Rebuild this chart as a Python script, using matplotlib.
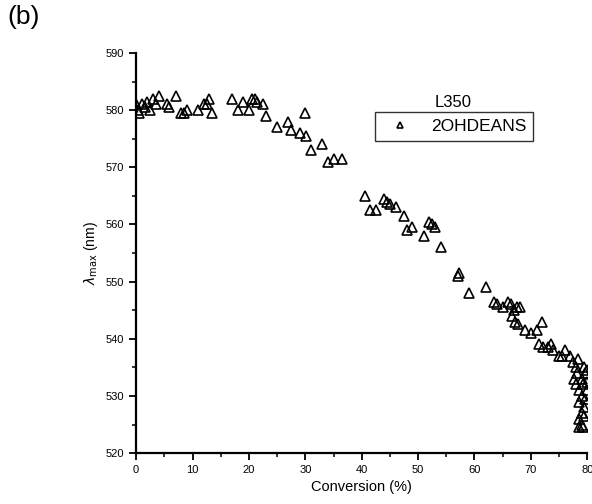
import matplotlib
matplotlib.use("Agg")
import matplotlib.pyplot as plt
from matplotlib.ticker import MultipleLocator

# data
conversion = [0, 0.3, 0.5, 1, 1.5, 2, 2.5, 3, 3.5, 4, 5.5, 5.8, 7, 8, 8.5, 9,
              11, 12, 12.5, 13, 13.5, 17, 18, 19, 20, 20.5, 21, 21.5, 22.5, 23,
              25, 27, 27.5, 29, 30, 30.2, 31, 33, 34, 35, 36.5,
              40.5, 41.5, 42.5, 44, 44.5, 45, 46, 47.5, 48, 49, 51, 52, 52.5, 53, 54,
              57, 57.3, 59, 62, 63.5, 64, 65, 66, 66.5, 67, 67.5, 66.7, 67.2, 68, 67.8,
              69, 70, 71, 72, 71.5, 72.2, 73, 73.5, 74, 75, 75.5, 76, 77, 77.5,
              78, 78.2, 77.6, 78, 78.5, 79, 79.5, 79.6, 80, 79, 78.5, 79, 79.5,
              78.5, 79, 79.2, 78.6, 79.5, 80, 79.6, 78.4, 80, 79.2]
lambda_max = [581, 580, 579.5, 581, 580.5, 581.5, 580, 582, 581, 582.5, 581, 580.5,
              582.5, 579.5, 579.5, 580, 580, 581, 581, 582, 579.5, 582, 580, 581.5,
              580, 582, 582, 581.5, 581, 579, 577, 578, 576.5, 576, 579.5, 575.5,
              573, 574, 571, 571.5, 571.5,
              565, 562.5, 562.5, 564.5, 564, 563.5, 563, 561.5, 559, 559.5, 558,
              560.5, 560, 559.5, 556,
              551, 551.5, 548, 549, 546.5, 546, 545.5, 546.5, 546, 545, 545.5, 544,
              543, 545.5, 542.5,
              541.5, 541, 541.5, 543, 539, 538.5, 538.5, 539, 538, 537, 537, 538,
              537, 536,
              535, 534, 533, 532, 531, 533, 535, 534, 532.5, 530, 529, 527, 528,
              526, 525, 524.5, 524.5, 526.5, 531, 529.5, 536.5, 534.5, 532]

plt.rcParams["font.family"] = ["Liberation Sans", "DejaVu Sans"]

fig = plt.figure(figsize=(5.92, 5.04), dpi=100)
ax = fig.add_axes([0.23, 0.101, 0.762, 0.794])

ax.plot(conversion, lambda_max, linestyle="none", marker="^", markersize=6.5,
        markerfacecolor="none", markeredgecolor="black", markeredgewidth=1.2,
        label="2OHDEANS")

ax.set_xlim(0, 80)
ax.set_ylim(520, 590)
ax.xaxis.set_major_locator(MultipleLocator(10))
ax.xaxis.set_minor_locator(MultipleLocator(5))
ax.yaxis.set_major_locator(MultipleLocator(10))
ax.yaxis.set_minor_locator(MultipleLocator(5))

for side in ["top", "right"]:
    ax.spines[side].set_visible(False)
ax.spines["left"].set_linewidth(1.6)
ax.spines["bottom"].set_linewidth(1.6)
ax.tick_params(which="major", direction="out", length=5, width=1.3, labelsize=8)
ax.tick_params(which="minor", direction="out", length=3, width=1.1)

ax.set_xlabel("Conversion (%)", fontsize=10.5)
ax.set_ylabel(r"$\lambda_{\rm max}$ (nm)", fontsize=10)

leg = ax.legend(loc="upper left", bbox_to_anchor=(0.53, 0.8525), fontsize=12.5,
                frameon=True, fancybox=False, edgecolor="black", handletextpad=0.8,
                borderpad=0.4, borderaxespad=0, handlelength=2.0, markerscale=0.75)
leg.get_frame().set_linewidth(1.0)
ax.text(0.703, 0.857, "L350", transform=ax.transAxes, ha="center", va="bottom",
        fontsize=12)

fig.text(0.012, 0.99, "(b)", fontsize=19, va="top")

plt.savefig("out.png", dpi=100)
